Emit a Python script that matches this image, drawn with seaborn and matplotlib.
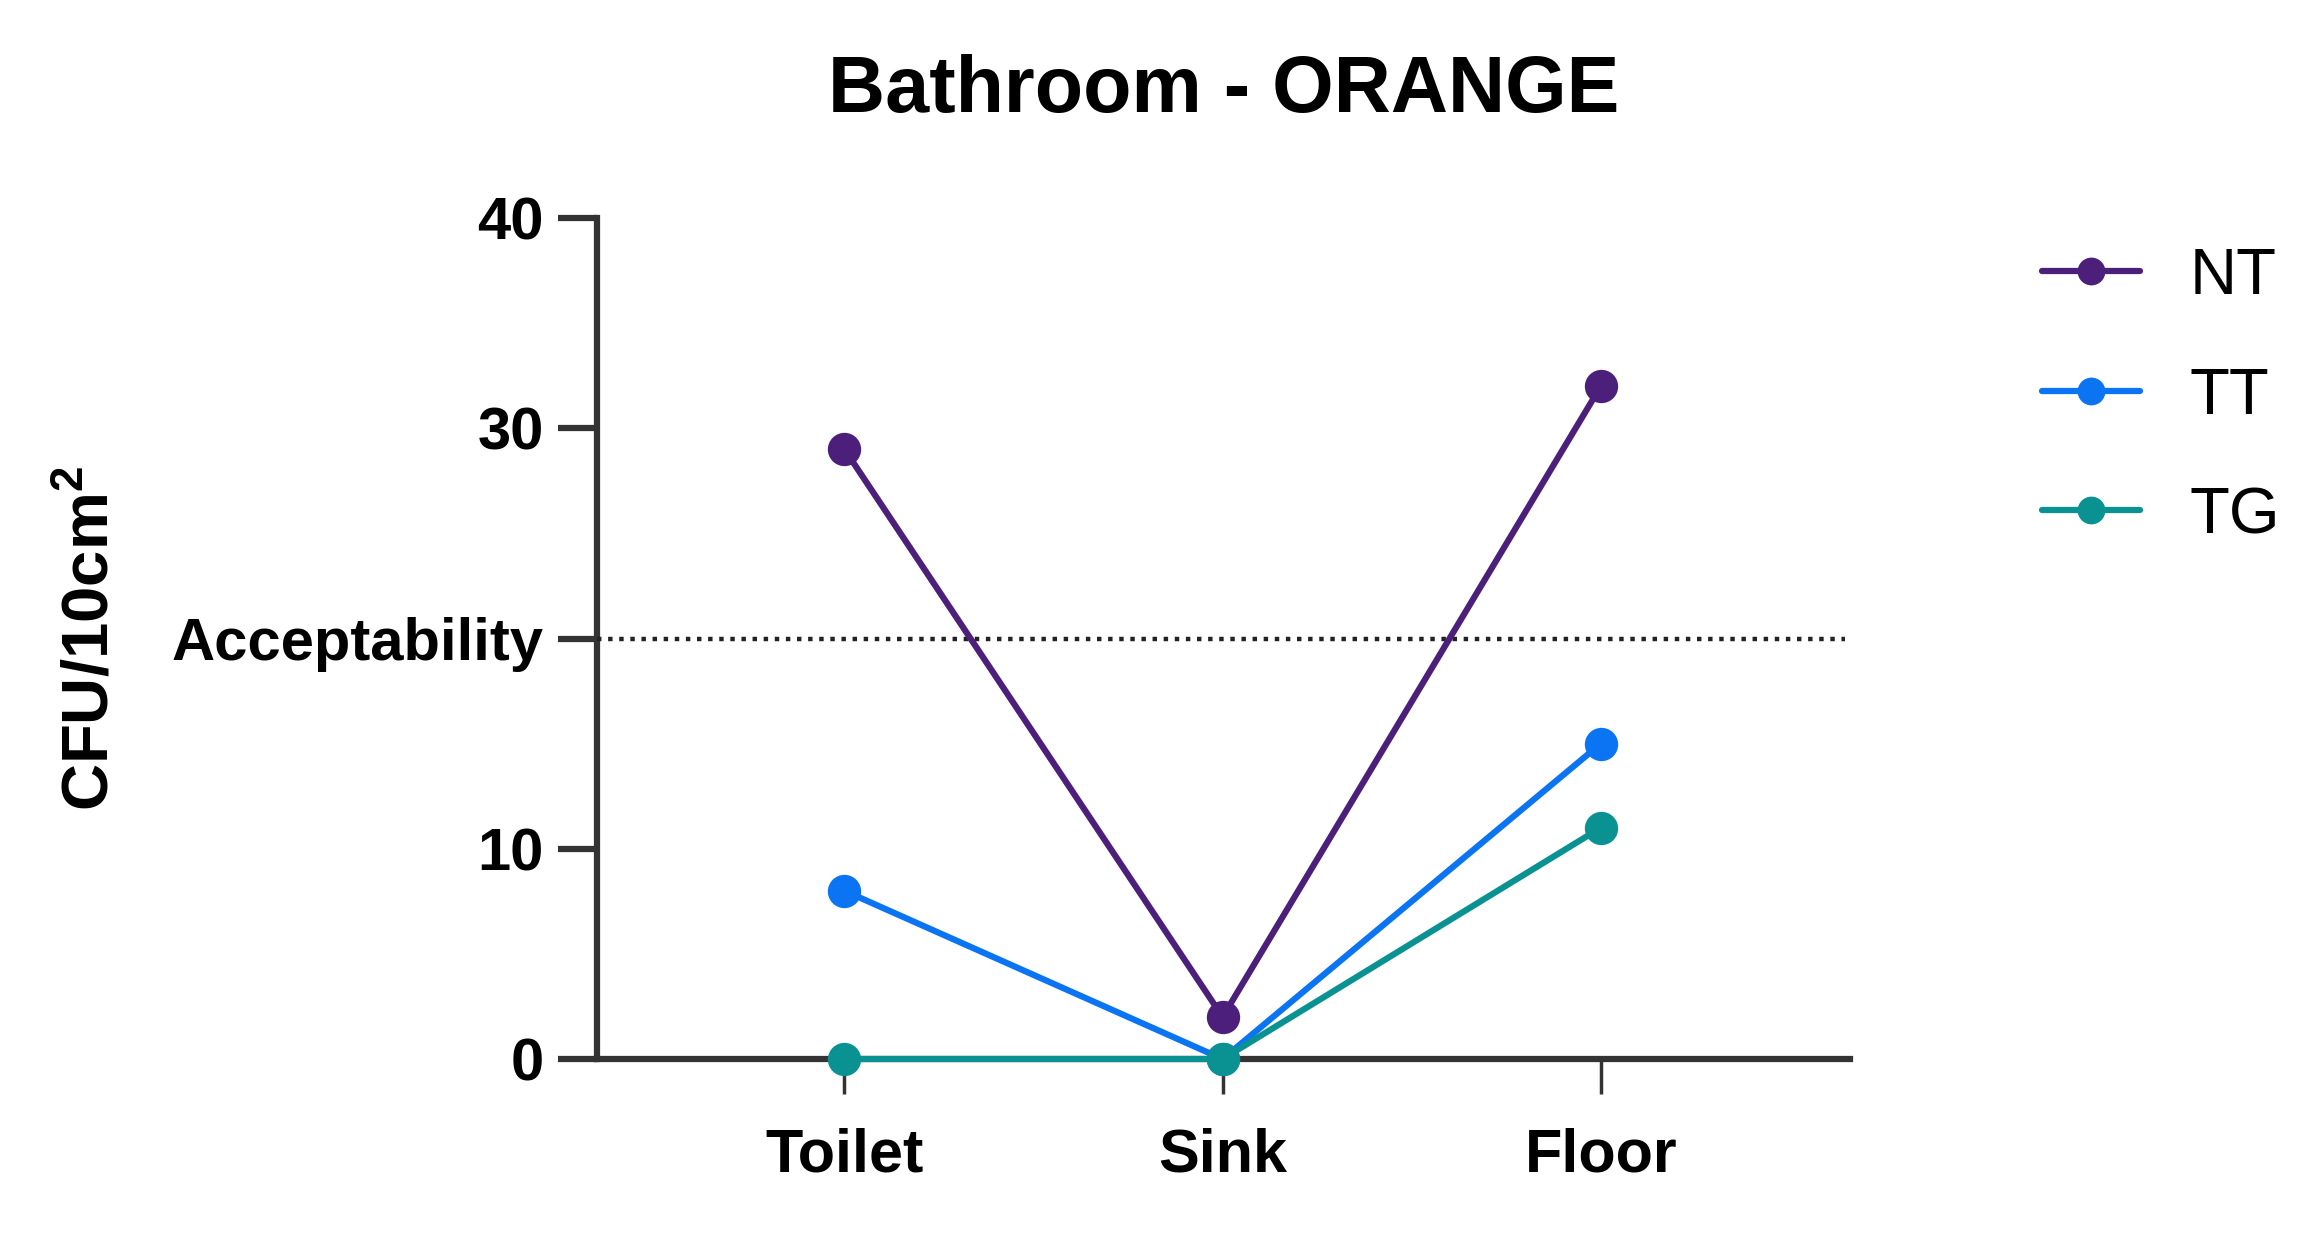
import matplotlib
matplotlib.use("Agg")
import matplotlib.pyplot as plt
import seaborn as sns
import pandas as pd

sites = ["Toilet", "Sink", "Floor"]
nt_values = [29, 2, 32]
tt_values = [8, 0, 15]
tg_values = [0, 0, 11]
groups = ["NT", "TT", "TG"]
colors = ["#4B1F7A", "#0A74F2", "#0A9292"]
acceptability = 20
ytick_values = [0, 10, 20, 30, 40]
ytick_labels = ["0", "10", "Acceptability", "30", "40"]

sns.set_theme(style="white")
plt.rcParams["font.family"] = ["Liberation Sans", "DejaVu Sans"]
plt.rcParams["mathtext.fontset"] = "custom"
plt.rcParams["mathtext.rm"] = "Liberation Sans"
plt.rcParams["mathtext.bf"] = "Liberation Sans:bold"
plt.rcParams["text.color"] = "black"
plt.rcParams["axes.labelcolor"] = "black"

rows = []
for g, vals in zip(groups, [nt_values, tt_values, tg_values]):
    for s, v in zip(sites, vals):
        rows.append({"site": s, "value": v, "group": g})
df = pd.DataFrame(rows)

fig = plt.figure(figsize=(23.13, 12.36), dpi=100)
ax = fig.add_axes([0.258, 0.1432, 0.542, 0.6804])

sns.lineplot(data=df, x="site", y="value", hue="group", hue_order=groups,
             palette=colors, marker="o", markersize=24, markeredgewidth=0,
             linewidth=4.5, sort=False, ax=ax, legend=True)
for ln in ax.lines:
    ln.set_clip_on(False)
    ln.set_zorder(5)
    ln.set_linewidth(4.5)

ax.axhline(acceptability, xmin=0, xmax=0.996, ls=(0, (1, 1.5)), color="#222222", lw=3.2, zorder=2)

ax.set_xlim(-0.655, 2.66)
ax.set_ylim(0, 40)
ax.set_yticks(ytick_values)
ax.set_yticklabels(ytick_labels)
ax.set_xlabel("")
ax.set_ylabel("CFU/10cm$^{\\mathbf{2}}$", fontsize=47, fontweight="bold")
ax.yaxis.set_label_coords(-0.379, 0.5)
ax.set_title("Bathroom - ORANGE", fontsize=57, fontweight="bold", pad=76, color="black")

for sp in ["top", "right"]:
    ax.spines[sp].set_visible(False)
for sp in ["left", "bottom"]:
    ax.spines[sp].set_linewidth(4.5)
    ax.spines[sp].set_color("#333333")
ax.spines["left"].set_zorder(1)

ax.tick_params(axis="y", which="major", direction="out", length=28, width=4.5,
               color="#333333", labelcolor="black", labelsize=43, pad=10, left=True)
ax.tick_params(axis="x", which="major", direction="out", length=25, width=2.5,
               color="#333333", labelcolor="black", labelsize=44, pad=24, bottom=True)
for lab in ax.get_yticklabels() + ax.get_xticklabels():
    lab.set_fontweight("bold")

handles, labels = ax.get_legend_handles_labels()
leg = ax.legend(handles, labels, loc="upper left", bbox_to_anchor=(0.883, 0.80),
                bbox_transform=fig.transFigure, frameon=False, fontsize=47,
                handlelength=1.5, labelspacing=0.91, handletextpad=0.75,
                borderpad=0, borderaxespad=0)
for h in leg.legend_handles:
    h.set_markersize(20)
    h.set_linewidth(4.5)
for t in leg.get_texts():
    t.set_color("black")

fig.savefig("out.png", dpi=100)
